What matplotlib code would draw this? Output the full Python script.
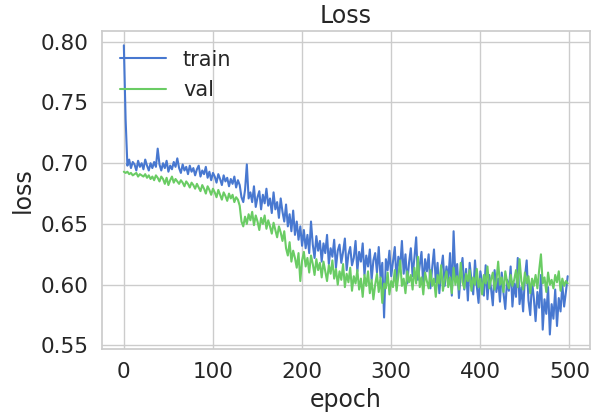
import numpy as np
import matplotlib
matplotlib.use("Agg")
import matplotlib.pyplot as plt
import seaborn as sns

# эпохи (каждая вторая)
epochs = list(range(0, 500, 2))

train_loss = [
    0.797, 0.736, 0.698, 0.703, 0.696, 0.701, 0.699, 0.694, 0.702, 0.697, 0.700,
    0.695, 0.703, 0.698, 0.694, 0.700, 0.696, 0.701, 0.697, 0.712, 0.699,
    0.694, 0.700, 0.696, 0.702, 0.693, 0.698, 0.695, 0.701, 0.697, 0.704,
    0.696, 0.692, 0.699, 0.694, 0.697, 0.691, 0.698, 0.693, 0.696, 0.690,
    0.695, 0.698, 0.689, 0.694, 0.691, 0.697, 0.688, 0.693, 0.686, 0.692,
    0.689, 0.684, 0.691, 0.687, 0.682, 0.690, 0.685, 0.688, 0.681, 0.687,
    0.683, 0.689, 0.680, 0.686, 0.682, 0.672, 0.668, 0.678, 0.699, 0.671,
    0.676, 0.668, 0.681, 0.664, 0.672, 0.677, 0.662, 0.674, 0.667, 0.679,
    0.665, 0.671, 0.659, 0.676, 0.662, 0.668, 0.655, 0.671, 0.660, 0.652,
    0.666, 0.648, 0.658, 0.644, 0.661, 0.641, 0.652, 0.637, 0.648, 0.632,
    0.645, 0.630, 0.641, 0.626, 0.652, 0.633, 0.622, 0.640, 0.628, 0.636,
    0.619, 0.634, 0.626, 0.641, 0.617, 0.630, 0.623, 0.637, 0.614, 0.628,
    0.633, 0.618, 0.627, 0.638, 0.612, 0.625, 0.631, 0.616, 0.622, 0.636,
    0.611, 0.627, 0.619, 0.634, 0.608, 0.624, 0.615, 0.629, 0.604, 0.620,
    0.626, 0.610, 0.631, 0.606, 0.618, 0.573, 0.621, 0.612, 0.628, 0.607,
    0.619, 0.631, 0.603, 0.623, 0.614, 0.636, 0.609, 0.625, 0.601, 0.618,
    0.630, 0.607, 0.622, 0.639, 0.604, 0.616, 0.627, 0.598, 0.621, 0.611,
    0.625, 0.597, 0.614, 0.629, 0.602, 0.618, 0.593, 0.612, 0.624, 0.599,
    0.615, 0.603, 0.626, 0.591, 0.644, 0.606, 0.617, 0.589, 0.610, 0.622,
    0.596, 0.613, 0.587, 0.618, 0.604, 0.592, 0.620, 0.599, 0.585, 0.611,
    0.602, 0.591, 0.616, 0.588, 0.608, 0.597, 0.583, 0.612, 0.594, 0.605,
    0.586, 0.610, 0.593, 0.580, 0.604, 0.595, 0.615, 0.582, 0.601, 0.590,
    0.622, 0.584, 0.598, 0.578, 0.606, 0.620, 0.587, 0.575, 0.603, 0.589,
    0.570, 0.594, 0.581, 0.608, 0.563, 0.588, 0.576, 0.598, 0.559, 0.584,
    0.572, 0.596, 0.566, 0.589, 0.578, 0.600, 0.582, 0.594, 0.607,
]

val_loss = [
    0.693, 0.692, 0.693, 0.691, 0.692, 0.690, 0.691, 0.692, 0.689, 0.691, 0.690,
    0.689, 0.691, 0.688, 0.690, 0.687, 0.689, 0.686, 0.690, 0.688, 0.685,
    0.689, 0.687, 0.683, 0.688, 0.682, 0.686, 0.689, 0.684, 0.687, 0.685,
    0.683, 0.686, 0.684, 0.681, 0.685, 0.683, 0.680, 0.684, 0.682, 0.679,
    0.683, 0.680, 0.677, 0.682, 0.679, 0.675, 0.681, 0.678, 0.674, 0.679,
    0.676, 0.672, 0.678, 0.674, 0.670, 0.676, 0.673, 0.669, 0.675, 0.671,
    0.674, 0.668, 0.672, 0.670, 0.665, 0.652, 0.648, 0.656, 0.650, 0.658,
    0.653, 0.660, 0.649, 0.657, 0.652, 0.645, 0.655, 0.650, 0.657, 0.646,
    0.653, 0.648, 0.642, 0.651, 0.645, 0.639, 0.648, 0.643, 0.636, 0.644,
    0.630, 0.624, 0.635, 0.619, 0.628, 0.622, 0.614, 0.626, 0.603, 0.620,
    0.627, 0.615, 0.622, 0.610, 0.624, 0.617, 0.608, 0.621, 0.612, 0.618,
    0.606, 0.619, 0.611, 0.603, 0.616, 0.609, 0.620, 0.605, 0.613, 0.600,
    0.611, 0.604, 0.617, 0.598, 0.609, 0.602, 0.614, 0.595, 0.607, 0.601,
    0.612, 0.596, 0.605, 0.590, 0.608, 0.599, 0.611, 0.593, 0.604, 0.588,
    0.600, 0.609, 0.594, 0.606, 0.585, 0.601, 0.597, 0.610, 0.592, 0.603,
    0.598, 0.612, 0.595, 0.607, 0.620, 0.599, 0.605, 0.593, 0.611, 0.602,
    0.608, 0.596, 0.614, 0.601, 0.623, 0.598, 0.606, 0.592, 0.610, 0.603,
    0.597, 0.612, 0.599, 0.605, 0.590, 0.608, 0.601, 0.616, 0.595, 0.604,
    0.611, 0.598, 0.606, 0.593, 0.614, 0.600, 0.607, 0.596, 0.618, 0.602,
    0.597, 0.609, 0.603, 0.612, 0.595, 0.606, 0.600, 0.613, 0.598, 0.605,
    0.592, 0.608, 0.601, 0.615, 0.597, 0.604, 0.610, 0.596, 0.603, 0.619,
    0.600, 0.606, 0.594, 0.611, 0.602, 0.597, 0.608, 0.599, 0.604, 0.612,
    0.598, 0.621, 0.603, 0.596, 0.610, 0.601, 0.607, 0.593, 0.605, 0.599,
    0.608, 0.597, 0.612, 0.625, 0.601, 0.606, 0.594, 0.610, 0.600, 0.604,
    0.597, 0.608, 0.602, 0.611, 0.595, 0.605, 0.599, 0.603, 0.601,
]

sns.set_theme(style="whitegrid", font_scale=1.5)
plt.rcParams['font.family'] = ['DejaVu Sans']
muted = sns.color_palette("muted")

fig, ax = plt.subplots(figsize=(6.05, 4.12), dpi=100)
fig.subplots_adjust(left=0.168, right=0.975, top=0.925, bottom=0.153)

ax.plot(epochs, train_loss, color=muted[0], label='train')
ax.plot(epochs, val_loss, color=muted[2], label='val')
ax.set_title('Loss', fontsize=17)
ax.set_xlabel('epoch', fontsize=17)
ax.set_ylabel('loss', fontsize=17)
ax.set_xticks([0, 100, 200, 300, 400, 500])
ax.set_yticks([0.55, 0.60, 0.65, 0.70, 0.75, 0.80])
ax.tick_params(labelsize=15.5)
ax.legend(loc='upper left', frameon=False, fontsize=15, handlelength=2.2)

fig.savefig('out.png', dpi=100)
